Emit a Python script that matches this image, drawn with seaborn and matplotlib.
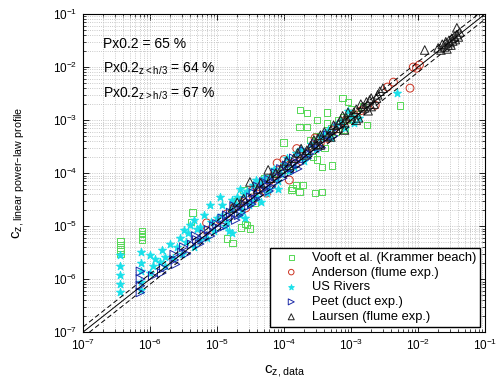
import matplotlib
matplotlib.use("Agg")
import matplotlib.pyplot as plt
import matplotlib.ticker as mticker
import numpy as np
import seaborn as sns

# values (c_z data vs. c_z linear power-law profile)
vooft_x = [3.6e-7, 3.6e-7, 3.6e-7, 3.6e-7, 7.6e-7, 7.6e-7, 7.6e-7, 7.6e-7,
           4.1e-6, 4.3e-6, 1.4e-5, 1.7e-5, 2.3e-5, 2.6e-5, 2.8e-5, 3.1e-5,
           2.5e-5, 3.7e-5, 2.0e-5, 5.0e-5, 8.0e-5, 9.8e-5, 9.8e-5, 1.1e-4,
           1.3e-4, 1.35e-4, 1.55e-4, 1.7e-4, 1.9e-4, 2.9e-4, 3.7e-4, 2.5e-4,
           2.7e-4, 3.1e-4, 3.7e-4, 5.2e-4, 1.7e-4, 4.4e-4, 1.74e-4, 2.2e-4,
           2.2e-4, 3.1e-4, 4.4e-4, 7.6e-4, 6.0e-4, 9.0e-4, 1.2e-3, 1.74e-3,
           5.4e-3, 7.5e-4, 9.0e-4, 3.0e-4, 5.0e-4, 6.5e-4, 1.0e-3, 1.5e-3,
           4.0e-4, 8.0e-4]
vooft_y = [3.0e-6, 3.6e-6, 4.4e-6, 5.2e-6, 5.6e-6, 6.3e-6, 7.1e-6, 8.0e-6,
           1.2e-5, 1.8e-5, 5.9e-6, 4.8e-6, 9.5e-6, 1.1e-5, 1.05e-5, 9.0e-6,
           4.8e-5, 2.7e-5, 3.0e-5, 8.0e-5, 1.0e-4, 1.3e-4, 3.8e-4, 1.15e-4,
           4.8e-5, 5.2e-5, 5.9e-5, 4.4e-5, 5.9e-5, 4.2e-5, 4.4e-5, 4.2e-4,
           2.0e-4, 1.8e-4, 1.3e-4, 1.4e-4, 7.4e-4, 8.7e-4, 1.55e-3, 1.35e-3,
           7.4e-4, 1.0e-3, 1.4e-3, 1.15e-3, 6.0e-4, 1.0e-3, 1.3e-3, 8.1e-4,
           1.9e-3, 2.6e-3, 2.2e-3, 5.0e-4, 7.0e-4, 1.0e-3, 1.6e-3, 1.8e-3,
           3.0e-4, 6.5e-4]

anderson_x = [7.0e-6, 7.0e-6, 1.1e-5, 1.8e-5, 2.7e-5, 3.2e-5, 4.0e-5, 5.5e-5,
              6.0e-5, 7.9e-5, 1.0e-4, 1.2e-4, 1.55e-4, 2.2e-4, 2.9e-4, 4.5e-4,
              6.5e-4, 1.0e-3, 1.4e-3, 2.3e-3, 3.5e-3, 4.3e-3, 7.6e-3, 8.5e-3,
              9.5e-3, 1.05e-2, 1.4e-5, 2.2e-5, 3.5e-5, 7.0e-5, 1.3e-4, 1.8e-4,
              3.5e-4, 5.5e-4, 8.0e-4]
anderson_y = [1.15e-5, 8.3e-6, 1.3e-5, 2.3e-5, 2.2e-5, 4.5e-5, 5.5e-5, 4.2e-5,
              7.0e-5, 1.55e-4, 1.8e-4, 7.4e-5, 2.9e-4, 2.5e-4, 4.6e-4, 4.5e-4,
              8.0e-4, 1.3e-3, 1.5e-3, 1.9e-3, 4.2e-3, 5.2e-3, 4.0e-3, 1.0e-2,
              9.5e-3, 1.1e-2, 1.7e-5, 2.9e-5, 3.2e-5, 9.0e-5, 1.5e-4, 1.7e-4,
              3.8e-4, 6.5e-4, 9.5e-4]

rivers_x = [3.6e-7, 3.6e-7, 3.6e-7, 3.6e-7, 3.6e-7, 7.4e-7, 7.4e-7, 7.4e-7,
            7.4e-7, 7.4e-7, 1.0e-6, 1.0e-6, 1.1e-6, 1.4e-6, 1.5e-6, 1.7e-6,
            1.7e-6, 2.2e-6, 2.5e-6, 2.8e-6, 3.0e-6, 3.5e-6, 3.7e-6, 4.0e-6,
            4.5e-6, 5.0e-6, 5.5e-6, 5.6e-6, 6.3e-6, 7.0e-6, 7.9e-6, 8.0e-6,
            9.0e-6, 1.0e-5, 1.1e-5, 1.2e-5, 1.3e-5, 1.6e-5, 1.7e-5, 1.7e-5,
            2.0e-5, 2.2e-5, 2.5e-5, 3.0e-5, 3.5e-5, 4.0e-5, 5.0e-5, 6.0e-5,
            7.0e-5, 8.0e-5, 1.0e-4, 1.2e-4, 1.5e-4, 2.0e-4, 2.5e-4, 3.0e-4,
            4.0e-4, 5.0e-4, 6.0e-4, 8.0e-4, 1.0e-3, 1.3e-3, 4.9e-3,
            1.2e-5, 1.4e-5, 1.9e-5, 2.4e-5, 2.8e-5, 3.3e-5, 4.5e-5, 5.5e-5,
            6.5e-5, 9.0e-5, 1.1e-4, 1.4e-4, 1.8e-4, 2.3e-4, 3.5e-4, 4.5e-4,
            7.0e-4, 9.0e-4, 1.1e-3, 3.2e-6, 4.5e-6, 2.0e-6, 1.2e-6,
            2.2e-5, 3.8e-5, 1.5e-5, 2.6e-5, 4.5e-5, 8.0e-5]
rivers_y = [2.8e-6, 1.8e-6, 1.2e-6, 8.0e-7, 5.6e-7, 3.2e-6, 2.0e-6, 1.4e-6,
            9.0e-7, 6.3e-7, 2.8e-6, 1.3e-6, 1.8e-6, 2.1e-6, 3.5e-6, 2.6e-6,
            1.8e-6, 2.5e-6, 4.0e-6, 6.0e-6, 3.0e-6, 5.0e-6, 7.4e-6, 1.05e-5,
            4.0e-6, 9.0e-6, 5.5e-6, 9.5e-6, 1.6e-5, 6.0e-6, 2.5e-5, 1.2e-5,
            8.0e-6, 1.4e-5, 3.5e-5, 2.5e-5, 1.0e-5, 2.0e-5, 3.1e-5, 7.4e-6,
            3.5e-5, 1.6e-5, 4.0e-5, 2.5e-5, 6.0e-5, 3.5e-5, 8.0e-5, 5.0e-5,
            1.2e-4, 7.0e-5, 1.5e-4, 1.1e-4, 2.4e-4, 1.7e-4, 3.5e-4, 2.8e-4,
            5.5e-4, 4.5e-4, 8.0e-4, 7.0e-4, 1.2e-3, 1.1e-3, 3.2e-3,
            1.6e-5, 1.2e-5, 2.6e-5, 2.0e-5, 4.6e-5, 3.0e-5, 6.5e-5, 4.2e-5,
            9.0e-5, 9.5e-5, 1.9e-4, 1.3e-4, 2.8e-4, 2.2e-4, 4.8e-4, 6.5e-4,
            9.5e-4, 1.5e-3, 9.0e-4, 8.5e-6, 1.3e-5, 4.5e-6, 2.4e-6,
            5.0e-5, 7.5e-5, 8.0e-6, 1.4e-5, 2.8e-5, 5.0e-5]

peet_x = [7.2e-7, 7.2e-7, 7.2e-7, 7.2e-7, 1.1e-6, 1.5e-6, 1.6e-6, 2.3e-6,
          2.3e-6, 2.4e-6, 3.0e-6, 3.2e-6, 3.5e-6, 4.2e-6, 5.0e-6, 5.5e-6,
          6.5e-6, 7.5e-6, 8.0e-6, 1.0e-5, 1.2e-5, 1.3e-5, 1.6e-5, 1.6e-5,
          2.0e-5, 2.3e-5, 2.7e-5, 3.2e-5, 3.8e-5, 4.5e-5, 5.5e-5, 6.5e-5,
          8.0e-5, 1.0e-4, 1.2e-4, 1.5e-4, 1.8e-4, 2.2e-4, 2.7e-4, 3.3e-4,
          4.0e-4, 1.1e-5, 1.4e-5, 1.8e-5, 2.1e-5, 2.5e-5, 3.0e-5, 3.5e-5,
          4.2e-5, 5.0e-5, 5.0e-5, 6.0e-5, 7.0e-5, 9.0e-5, 9.5e-5, 1.1e-4,
          1.3e-4, 1.4e-4, 1.7e-4, 2.0e-4, 2.4e-4, 3.0e-4, 3.6e-4, 4.5e-4,
          5.5e-4, 6.5e-4, 9.0e-6, 4.8e-6, 6.0e-6, 1.9e-5, 3.3e-5, 6.0e-5,
          4.0e-5, 7.5e-5, 1.6e-4, 1.2e-4]
peet_y = [1.4e-6, 1.0e-6, 7.5e-7, 5.6e-7, 1.15e-6, 1.3e-6, 1.6e-6, 2.3e-6,
          2.9e-6, 1.9e-6, 3.2e-6, 4.0e-6, 3.0e-6, 4.5e-6, 5.5e-6, 4.6e-6,
          7.0e-6, 8.5e-6, 6.5e-6, 1.1e-5, 1.4e-5, 1.0e-5, 1.8e-5, 1.5e-5,
          2.1e-5, 1.8e-5, 3.0e-5, 3.5e-5, 3.2e-5, 4.8e-5, 6.0e-5, 5.5e-5,
          8.5e-5, 1.1e-4, 1.0e-4, 1.6e-4, 2.0e-4, 1.9e-4, 2.9e-4, 3.2e-4,
          4.3e-4, 9.0e-6, 1.6e-5, 2.4e-5, 1.6e-5, 2.6e-5, 2.4e-5, 4.2e-5,
          3.8e-5, 5.0e-5, 6.8e-5, 7.5e-5, 6.5e-5, 1.2e-4, 8.0e-5, 1.4e-4,
          1.25e-4, 1.9e-4, 1.5e-4, 2.6e-4, 2.3e-4, 3.6e-4, 3.0e-4, 5.2e-4,
          5.0e-4, 7.5e-4, 1.0e-5, 6.5e-6, 5.5e-6, 1.3e-5, 2.6e-5, 4.6e-5,
          5.6e-5, 1.0e-4, 1.2e-4, 1.6e-4]

laursen_x = [1.7e-5, 2.5e-5, 3.1e-5, 4.0e-5, 5.8e-5, 6.3e-5, 9.0e-5, 1.2e-4,
             1.6e-4, 2.0e-4, 2.5e-4, 3.0e-4, 3.5e-4, 4.5e-4, 5.0e-4, 6.0e-4,
             7.0e-4, 8.0e-4, 9.0e-4, 1.0e-3, 1.2e-3, 1.3e-3, 1.5e-3, 1.7e-3,
             1.8e-3, 2.0e-3, 2.2e-3, 2.5e-3, 3.0e-3, 1.26e-2, 2.0e-2, 2.2e-2,
             2.3e-2, 2.5e-2, 2.6e-2, 2.7e-2, 2.8e-2, 2.9e-2, 3.0e-2, 3.1e-2,
             3.2e-2, 3.3e-2, 3.5e-2, 3.6e-2, 3.8e-2, 4.0e-2, 4.2e-2, 3.8e-2,
             1.1e-4, 1.4e-4, 1.8e-4, 2.2e-4, 2.8e-4, 3.2e-4, 4.0e-4, 5.5e-4,
             6.5e-4, 7.5e-4, 8.5e-4, 1.1e-3, 1.4e-3, 1.6e-3, 1.9e-3, 2.4e-3,
             2.7e-3, 7.5e-5, 4.5e-5, 2.0e-5, 3.5e-4, 5.0e-4, 1.2e-3, 2.0e-3,
             8.0e-4]
laursen_y = [2.2e-5, 3.3e-5, 6.8e-5, 5.0e-5, 1.15e-4, 8.0e-5, 1.2e-4, 1.4e-4,
             2.4e-4, 2.2e-4, 3.3e-4, 3.5e-4, 5.2e-4, 5.0e-4, 6.5e-4, 7.0e-4,
             1.0e-3, 9.0e-4, 1.4e-3, 1.2e-3, 1.6e-3, 1.1e-3, 1.8e-3, 2.2e-3,
             1.5e-3, 2.6e-3, 2.0e-3, 3.0e-3, 4.0e-3, 2.1e-2, 2.3e-2, 2.1e-2,
             2.7e-2, 2.4e-2, 3.0e-2, 2.2e-2, 2.6e-2, 3.2e-2, 2.9e-2, 2.6e-2,
             3.5e-2, 3.1e-2, 3.8e-2, 3.3e-2, 4.1e-2, 3.7e-2, 4.6e-2, 5.5e-2,
             1.7e-4, 1.9e-4, 2.9e-4, 2.7e-4, 4.2e-4, 4.5e-4, 6.0e-4, 8.0e-4,
             8.5e-4, 1.2e-3, 1.1e-3, 1.4e-3, 2.0e-3, 1.7e-3, 2.4e-3, 2.6e-3,
             3.5e-3, 1.0e-4, 6.5e-5, 2.8e-5, 3.4e-4, 4.8e-4, 1.0e-3, 1.8e-3,
             6.5e-4]

ref_range = [1e-7, 1e-1]
decade_ticks = [1e-7, 1e-6, 1e-5, 1e-4, 1e-3, 1e-2, 1e-1]
band_factor = 1.25

stats_text = [r"Px0.2 = 65 %",
              r"Px0.2$_{\mathregular{z<h/3}}$ = 64 %",
              r"Px0.2$_{\mathregular{z>h/3}}$ = 67 %"]
stats_y = [2.3e-2, 7.9e-3, 2.7e-3]

sns.set_theme(style="ticks")
plt.rcParams.update({
    "font.size": 9,
    "xtick.labelsize": 8.5,
    "ytick.labelsize": 8.5,
    "axes.linewidth": 0.8,
    "axes.edgecolor": "black",
    "text.color": "black",
    "axes.labelcolor": "black",
    "xtick.color": "black",
    "ytick.color": "black",
})
plt.rcParams["font.family"] = ["Liberation Sans", "DejaVu Sans"]

fig = plt.figure(figsize=(5, 3.8), dpi=100)
ax = fig.add_axes([0.166, 0.126, 0.804, 0.837])
ax.set_xscale("log")
ax.set_yscale("log")

series = [
    ("Vooft et al. (Krammer beach)", vooft_x, vooft_y, "s", "#55d855", 22, False),
    ("Anderson (flume exp.)", anderson_x, anderson_y, "o", "#cc3322", 32, False),
    ("US Rivers", rivers_x, rivers_y, "*", "#19e0ea", 36, True),
    ("Peet (duct exp.)", peet_x, peet_y, ">", "#1c2aa8", 38, False),
    ("Laursen (flume exp.)", laursen_x, laursen_y, "^", "#222222", 38, False),
]
for label, xs, ys, mk, col, size, filled in series:
    sns.scatterplot(x=xs, y=ys, marker=mk, s=size,
                    facecolor=col if filled else "none", edgecolor=col,
                    linewidth=0.7, label=label, ax=ax, zorder=3)

# 1:1 line and factor band
ref = np.array(ref_range)
ax.plot(ref, ref, color="black", lw=0.7, zorder=4)
ax.plot(ref, ref * band_factor, color="black", lw=0.7, ls=(0, (5, 3)), zorder=4)
ax.plot(ref, ref / band_factor, color="black", lw=0.7, ls=(0, (5, 3)), zorder=4)

ax.set_xlim(ref_range)
ax.set_ylim(ref_range)

minor = mticker.LogLocator(base=10, subs=np.arange(2, 10), numticks=100)
for axis in (ax.xaxis, ax.yaxis):
    axis.set_major_locator(mticker.FixedLocator(decade_ticks))
    axis.set_major_formatter(mticker.LogFormatterSciNotation())
    axis.set_minor_locator(minor)
    axis.set_minor_formatter(mticker.NullFormatter())

ax.grid(True, which="both", ls=":", lw=0.6, color="#b8b8b8", zorder=0)
ax.tick_params(which="both", direction="in", top=True, right=True)
ax.tick_params(which="major", length=4, width=0.6, pad=4)
ax.tick_params(which="minor", length=2, width=0.5)
for sp in ax.spines.values():
    sp.set_visible(True)
    sp.set_color("black")

for txt, yy in zip(stats_text, stats_y):
    ax.text(2e-7, yy, txt, fontsize=10, va="baseline", ha="left")

ax.set_xlabel(r"c$_{\mathregular{z,data}}$", fontsize=11)
ax.set_ylabel("c$_{\\mathregular{z,linear\\ power\u2013law\\ profile}}$", fontsize=11)
ax.xaxis.set_label_coords(0.5, -0.1)
ax.yaxis.set_label_coords(-0.14, 0.5)

ax.legend(loc="lower right", bbox_to_anchor=(0.988, 0.016), borderaxespad=0,
          frameon=True, fancybox=False, edgecolor="black", framealpha=1,
          fontsize=9.3, markerscale=0.7, handlelength=2.7, handletextpad=0.25,
          labelspacing=0.22, borderpad=0.3)

fig.savefig("out.png", dpi=100)
